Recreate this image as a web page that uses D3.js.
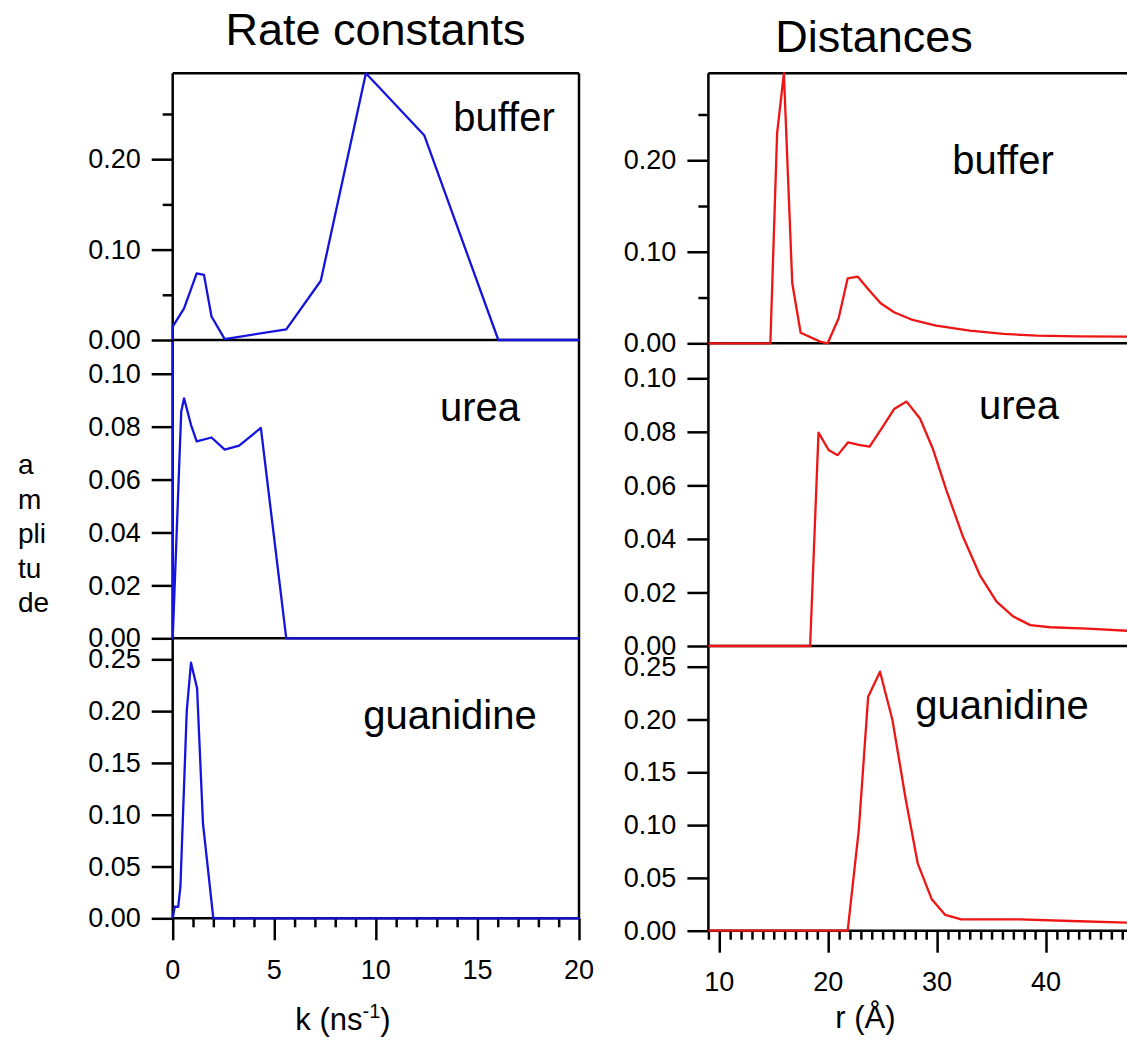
<!DOCTYPE html>
<html>
<head>
<meta charset="utf-8">
<script src="https://cdn.jsdelivr.net/npm/d3@7"></script>
<style>
  html, body { margin: 0; padding: 0; background: #fff; }
  svg { display: block; }
  text { font-family: "Liberation Sans", Arial, Helvetica, sans-serif; fill: #000; }
</style>
</head>
<body>
<svg id="chart" width="1127" height="1040"></svg>
<script>
// ---------- DATA ----------
const panelNames = ["buffer", "urea", "guanidine"];
const columnTitles = ["Rate constants", "Distances"];
const yLabelLines = ["a", "m", "pli", "tu", "de"];

// Rate constants (k, ns^-1)
const kBuffer   = [0, 0, 0.56, 1.18, 1.54, 1.91, 2.56, 5.59, 7.29, 9.51, 12.38, 16.03, 20];
const ampKBuffer = [0, 0.0147, 0.035, 0.0737, 0.072, 0.026, 0.001, 0.0118, 0.0655, 0.295, 0.2265, 0, 0];

const kUrea   = [0, 0, 0.42, 0.56, 0.9, 1.18, 1.91, 2.56, 3.27, 4.34, 5.59, 20];
const ampKUrea = [0.112, 0, 0.0857, 0.0907, 0.0807, 0.0744, 0.0759, 0.0713, 0.0728, 0.0795, 0, 0];

const kGuan   = [0, 0.1, 0.27, 0.38, 0.69, 0.9, 1.2, 1.49, 2.0, 20];
const ampKGuan = [0, 0.0112, 0.011, 0.0305, 0.1995, 0.2468, 0.222, 0.0917, 0, 0];

// Distances (r, Å)
const rBuffer   = [9, 14.69, 15.31, 15.93, 16.7, 17.47, 19.27, 19.95, 20.96, 21.79, 22.72, 23.74, 24.82, 26.05, 27.75, 29.91, 33.0, 36.09, 39.17, 42.87, 47.44, 50];
const ampRBuffer = [0, 0, 0.2295, 0.295, 0.0656, 0.0116, 0.0018, 0, 0.0273, 0.071, 0.0728, 0.0583, 0.0437, 0.0339, 0.0255, 0.0192, 0.0138, 0.0102, 0.0083, 0.0076, 0.0072, 0.007];

const rUrea   = [9, 18.34, 19.11, 20.04, 20.87, 21.83, 22.81, 23.8, 24.82, 26.05, 27.2, 28.43, 29.6, 30.84, 32.38, 33.92, 35.46, 37.0, 38.56, 40.4, 43.8, 47.44, 50];
const ampRUrea = [0, 0, 0.0797, 0.0732, 0.0713, 0.0761, 0.0751, 0.0745, 0.0807, 0.0885, 0.0913, 0.085, 0.0738, 0.0583, 0.0408, 0.0265, 0.0166, 0.011, 0.0078, 0.007, 0.0065, 0.0057, 0.0055];

const rGuan   = [9, 21.79, 22.81, 23.67, 24.76, 25.9, 27.13, 28.22, 29.51, 30.75, 32.22, 37.63, 42.26, 47.44, 50];
const ampRGuan = [0, 0, 0.0954, 0.2216, 0.2453, 0.1995, 0.1238, 0.0638, 0.0297, 0.0149, 0.0108, 0.0108, 0.0092, 0.0076, 0.0072];

// Tick values
const kMajorTicks = [0, 5, 10, 15, 20];
const kMinorTicks = d3.range(0, 21, 1);
const rMajorTicks = [10, 20, 30, 40];
const rMinorTicks = d3.range(9, 51, 1);
const yTicksBuffer = [0, 0.10, 0.20];
const yMinorBuffer = [0.05, 0.15, 0.25];
const yTicksUrea = [0, 0.02, 0.04, 0.06, 0.08, 0.10];
const yTicksGuan = [0, 0.05, 0.10, 0.15, 0.20, 0.25];

// ---------- LAYOUT ----------
const svg = d3.select("#chart");
const BLUE = "#1414dc", RED = "#ee1515";
const AX = 2.5;

const columns = [
  {
    x: d3.scaleLinear().domain([0, 20]).range([172.7, 579]),
    panels: [
      { y: d3.scaleLinear().domain([0, 0.295]).range([340, 73.3]), xs: kBuffer, ys: ampKBuffer, ticks: yTicksBuffer, minor: yMinorBuffer, label: { x: 504, y: 131 } },
      { y: d3.scaleLinear().domain([0, 0.112]).range([638.3, 342]), xs: kUrea, ys: ampKUrea, ticks: yTicksUrea, minor: [], label: { x: 480, y: 421 } },
      { y: d3.scaleLinear().domain([0, 0.2706]).range([918.3, 638]), xs: kGuan, ys: ampKGuan, ticks: yTicksGuan, minor: [], label: { x: 450, y: 729 } }
    ],
    color: BLUE, major: kMajorTicks, minorX: kMinorTicks, rightBorder: true,
    tickLabelY: 979, title: { x: 375.5, y: 45 },
    xLabel: { x: 343, y: 1030, main: "k (ns", sup: "-1", tail: ")" }
  },
  {
    x: d3.scaleLinear().domain([9, 50]).range([708.4, 1154.9]),
    panels: [
      { y: d3.scaleLinear().domain([0, 0.295]).range([343.3, 73.3]), xs: rBuffer, ys: ampRBuffer, ticks: yTicksBuffer, minor: yMinorBuffer, label: { x: 1003, y: 174 } },
      { y: d3.scaleLinear().domain([0, 0.113]).range([646, 343.5]), xs: rUrea, ys: ampRUrea, ticks: yTicksUrea, minor: [], label: { x: 1019, y: 419 } },
      { y: d3.scaleLinear().domain([0, 0.2696]).range([930.7, 646]), xs: rGuan, ys: ampRGuan, ticks: yTicksGuan, minor: [], label: { x: 1002, y: 719 } }
    ],
    color: RED, major: rMajorTicks, minorX: rMinorTicks, rightBorder: false,
    tickLabelY: 991, title: { x: 874, y: 52 },
    xLabel: { x: 865.5, y: 1028, main: "r (Å)", sup: null, tail: "" }
  }
];

columns.forEach((col, ci) => {
  const g = svg.append("g");
  const x = col.x;
  const x0 = x.range()[0], x1 = x.range()[1];
  const top = col.panels[0].y.range()[1];
  const bottom = col.panels[2].y.range()[0];

  // title
  g.append("text").attr("x", col.title.x).attr("y", col.title.y)
    .attr("text-anchor", "middle").style("font-size", "45px").text(columnTitles[ci]);

  // frame: top line, left axis, right border
  g.append("line").attr("x1", x0).attr("x2", x1).attr("y1", top).attr("y2", top)
    .attr("stroke", "#000").attr("stroke-width", AX);
  g.append("line").attr("x1", x0).attr("x2", x0).attr("y1", top).attr("y2", bottom)
    .attr("stroke", "#000").attr("stroke-width", AX);
  if (col.rightBorder) {
    g.append("line").attr("x1", x1).attr("x2", x1).attr("y1", top).attr("y2", bottom)
      .attr("stroke", "#000").attr("stroke-width", AX);
  }

  col.panels.forEach((p, pi) => {
    const y = p.y;
    // zero line
    g.append("line").attr("x1", x0).attr("x2", x1).attr("y1", y(0)).attr("y2", y(0))
      .attr("stroke", "#000").attr("stroke-width", AX);

    // y axis major
    const ya = g.append("g").attr("transform", `translate(${x0},0)`)
      .call(d3.axisLeft(y).tickValues(p.ticks).tickSize(21).tickPadding(11).tickFormat(d3.format(".2f")));
    ya.select(".domain").remove();
    ya.selectAll(".tick line").attr("stroke", "#000").attr("stroke-width", AX);
    ya.selectAll(".tick text").style("font-size", "27px").attr("font-family", null).attr("fill", "#000");
    // y axis minor
    if (p.minor.length) {
      const ym = g.append("g").attr("transform", `translate(${x0},0)`)
        .call(d3.axisLeft(y).tickValues(p.minor).tickSize(10).tickFormat(""));
      ym.select(".domain").remove();
      ym.selectAll(".tick line").attr("stroke", "#000").attr("stroke-width", AX);
    }

    // panel label
    g.append("text").attr("x", p.label.x).attr("y", p.label.y).attr("text-anchor", "middle")
      .style("font-size", "40px").text(panelNames[pi]);
  });

  // x axis (bottom of last panel)
  const yb = bottom;
  const xm = g.append("g").attr("transform", `translate(0,${yb})`)
    .call(d3.axisBottom(x).tickValues(col.minorX.filter(v => !col.major.includes(v))).tickSize(9).tickFormat(""));
  xm.select(".domain").remove();
  xm.selectAll(".tick line").attr("stroke", "#000").attr("stroke-width", AX);
  const xM = g.append("g").attr("transform", `translate(0,${yb})`)
    .call(d3.axisBottom(x).tickValues(col.major).tickSize(22).tickFormat(""));
  xM.select(".domain").remove();
  xM.selectAll(".tick line").attr("stroke", "#000").attr("stroke-width", AX);
  g.selectAll(null).data(col.major).enter().append("text")
    .attr("x", d => x(d)).attr("y", col.tickLabelY).attr("text-anchor", "middle")
    .style("font-size", "27px").text(d => d3.format("d")(d));

  // x axis label
  const xl = g.append("text").attr("x", col.xLabel.x).attr("y", col.xLabel.y)
    .attr("text-anchor", "middle").style("font-size", "31px");
  xl.append("tspan").text(col.xLabel.main);
  if (col.xLabel.sup) {
    xl.append("tspan").attr("dy", "-12").style("font-size", "20px").text(col.xLabel.sup);
    xl.append("tspan").attr("dy", "12").text(col.xLabel.tail);
  }

  // data lines on top
  col.panels.forEach(p => {
    const pts = p.xs.map((v, i) => [v, p.ys[i]]);
    g.append("path").datum(pts)
      .attr("d", d3.line().x(d => x(d[0])).y(d => p.y(d[1])))
      .attr("fill", "none").attr("stroke", col.color).attr("stroke-width", 2.3)
      .attr("stroke-linejoin", "round");
  });
});

// stacked y label
svg.append("g").selectAll("text").data(yLabelLines).enter().append("text")
  .attr("x", 18).attr("y", (d, i) => 474 + i * 34.6)
  .style("font-size", "28px").text(d => d);
</script>
</body>
</html>
